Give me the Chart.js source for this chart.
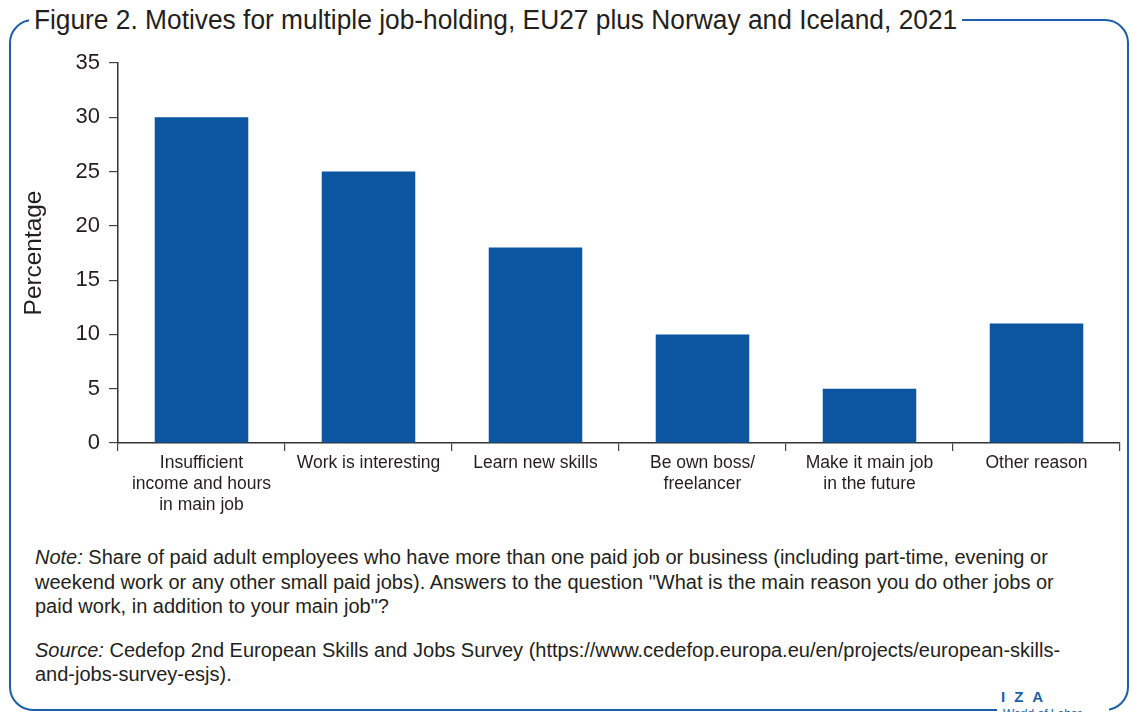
<!DOCTYPE html>
<html>
<head>
<meta charset="utf-8">
<script src="https://cdn.jsdelivr.net/npm/chart.js@4"></script>
<style>
  html, body { margin: 0; padding: 0; background: #fff; }
  body { width: 1132px; height: 712px; position: relative; overflow: hidden; font-family: "Liberation Sans", Arial, sans-serif; color: #231f20; }
  .frame { position: absolute; left: 9px; top: 19px; width: 1116px; height: 688px; border: 2.5px solid #1b5faa; border-radius: 24px; }
  .title { position: absolute; left: 29px; top: 3px; padding: 0 5px; background: #fff; font-size: 27px; line-height: 34px; color: #231f20; white-space: nowrap; transform: scaleX(0.975); transform-origin: left center; }
  .gap { position: absolute; left: 997px; top: 700px; width: 112px; height: 12px; background: #fff; }
  .chart-box { position: absolute; left: 0; top: 40px; width: 1132px; height: 490px; }
  .notes { position: absolute; left: 35px; top: 545px; width: 1054px; font-size: 20px; line-height: 24.5px; }
  .notes p { margin: 0 0 19px 0; }
  .iza { position: absolute; left: 1001px; top: 688px; font-size: 15px; font-weight: bold; letter-spacing: 9px; color: #1b5faa; }
  .wol { position: absolute; left: 1003px; top: 707px; font-size: 12px; color: #1b5faa; white-space: nowrap; }
</style>
</head>
<body>
<div class="frame"></div>
<div class="title">Figure 2. Motives for multiple job-holding, EU27 plus Norway and Iceland, 2021</div>
<div class="gap"></div>
<div class="chart-box"><canvas id="chart"></canvas></div>
<div class="notes">
  <p><i>Note:</i> Share of paid adult employees who have more than one paid job or business (including part-time, evening or weekend work or any other small paid jobs). Answers to the question "What is the main reason you do other jobs or paid work, in addition to your main job"?</p>
  <p><i>Source:</i> Cedefop 2nd European Skills and Jobs Survey (https://www.cedefop.europa.eu/en/projects/european-skills-and-jobs-survey-esjs).</p>
</div>
<div class="iza">IZA</div>
<div class="wol">World of Labor</div>
<script>
const categories = [
    ['Insufficient', 'income and hours', 'in main job'],
    'Work is interesting',
    'Learn new skills',
    ['Be own boss/', 'freelancer'],
    ['Make it main job', 'in the future'],
    'Other reason'
];
const percentages = [30, 25, 18, 10, 5, 11];
const yTicks = [0, 5, 10, 15, 20, 25, 30, 35];

const ctx = document.getElementById('chart');
const chart = new Chart(ctx, {
    type: 'bar',
    data: {
        labels: categories,
        datasets: [{
            label: 'Percentage',
            data: percentages,
            backgroundColor: '#0b55a1',
            borderWidth: 0,
            categoryPercentage: 1,
            barPercentage: 0.56
        }]
    },
    options: {
        responsive: true,
        maintainAspectRatio: false,
        animation: false,
        layout: { padding: { left: 20, top: 23, right: 12, bottom: 12 } },
        plugins: {
            legend: { display: false },
            tooltip: { enabled: false }
        },
        scales: {
            x: {
                grid: { display: true, offset: true, drawOnChartArea: false, tickLength: 8, color: '#444', lineWidth: 1.2 },
                border: { color: '#333', width: 1.5 },
                ticks: {
                    color: '#231f20', padding: 2, maxRotation: 0, autoSkip: false,
                    font: { family: 'Liberation Sans', size: 17.5, lineHeight: 1.2 }
                },
                afterFit: s => { s.height = 75; }
            },
            y: {
                min: 0,
                max: yTicks[yTicks.length - 1],
                afterBuildTicks: s => { s.ticks = yTicks.map(v => ({ value: v })); },
                grid: { display: true, drawOnChartArea: false, tickLength: 9, color: '#444', lineWidth: 1.2 },
                border: { color: '#333', width: 1.5 },
                ticks: {
                    color: '#231f20', padding: 9,
                    font: { family: 'Liberation Sans', size: 22 }
                },
                title: {
                    display: true, text: 'Percentage', color: '#231f20', padding: 0,
                    font: { family: 'Liberation Sans', size: 24.4 }
                },
                afterFit: s => { s.width = 98; }
            }
        }
    }
});
</script>
</body>
</html>
